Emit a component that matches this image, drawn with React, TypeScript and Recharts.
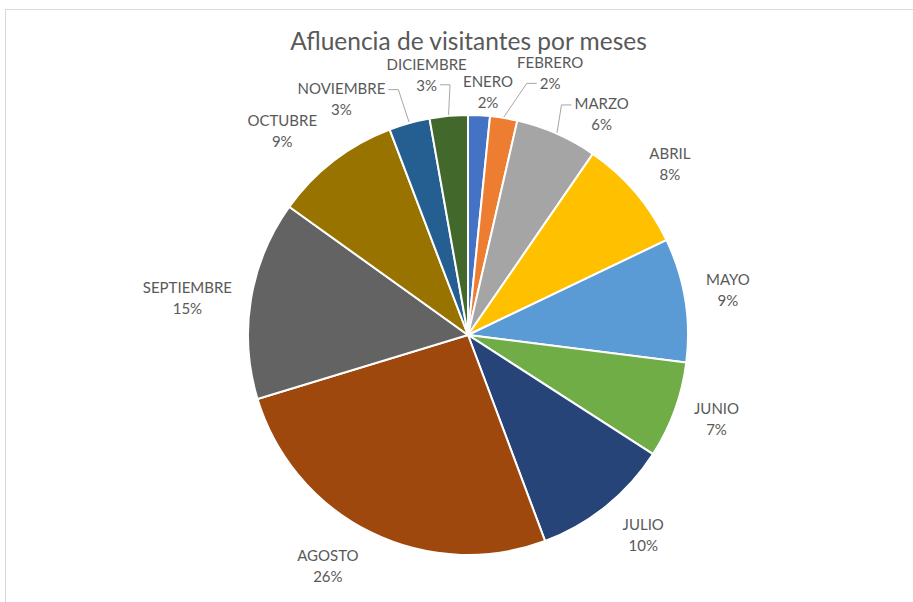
import { PieChart, Pie, Cell } from 'recharts'

const MONTHS = [
  'ENERO',
  'FEBRERO',
  'MARZO',
  'ABRIL',
  'MAYO',
  'JUNIO',
  'JULIO',
  'AGOSTO',
  'SEPTIEMBRE',
  'OCTUBRE',
  'NOVIEMBRE',
  'DICIEMBRE',
]

// share of visitors per month (%)
const SHARES = [1.6, 2.0, 6.0, 8.3, 9.1, 7.1, 10.2, 26.0, 14.6, 9.3, 3.0, 2.8]

const COLORS = [
  '#4472C4',
  '#ED7D31',
  '#A5A5A5',
  '#FFC000',
  '#5B9BD5',
  '#70AD47',
  '#264478',
  '#9E480E',
  '#636363',
  '#997300',
  '#255E91',
  '#43682B',
]

// label nudges: da = degrees clockwise, dr = px outward, leader = draw leader line
const LABEL_NUDGE = [
  { da: 1.7, dr: -19, leader: false },
  { da: 7.2, dr: 10, leader: true },
  { da: 6.5, dr: -7, leader: true },
  { da: 0, dr: 0, leader: false },
  { da: -0.8, dr: -3, leader: false },
  { da: -1.2, dr: -5, leader: false },
  { da: -2.2, dr: 1, leader: false },
  { da: 3.9, dr: 3, leader: false },
  { da: -1, dr: -6, leader: false },
  { da: -2.9, dr: 6, leader: false },
  { da: -10.5, dr: 0, leader: true },
  { da: -3.3, dr: 0, leader: true },
]

const FONT = 'Lato, "Noto Sans", sans-serif'
const LABEL_SIZE = 15
const LABEL_COLOR = '#595959'
const LINE_GAP = 21
const GAP = 25
const RAD = Math.PI / 180

const data = MONTHS.map((name, i) => ({ name, value: SHARES[i] }))

let ctx: CanvasRenderingContext2D | null = null
function textWidth(s: string) {
  if (!ctx) ctx = document.createElement('canvas').getContext('2d')
  if (!ctx) return s.length * 9
  ctx.font = `${LABEL_SIZE}px Lato`
  return ctx.measureText(s).width
}

function renderLabel(props: any) {
  const { cx, cy, midAngle, outerRadius, percent, name, index } = props
  const nudge = LABEL_NUDGE[index]
  const pct = `${Math.round(percent * 100)}%`
  const nameW = textWidth(name)
  const pctW = textWidth(pct)
  const halfW = Math.max(nameW, pctW) / 2
  const halfH = LINE_GAP / 2 + 8

  const t = (90 - midAngle + nudge.da) * RAD
  const s = Math.sin(t)
  const c = Math.cos(t)
  const r = outerRadius + GAP + nudge.dr
  const lx = cx + r * s + s * halfW
  const ly = cy - r * c - c * halfH

  let leader = null
  if (nudge.leader) {
    const tm = (90 - midAngle) * RAD
    const ex = cx + (outerRadius + 1) * Math.sin(tm)
    const ey = cy - (outerRadius + 1) * Math.cos(tm)
    const dir = lx > ex ? 1 : -1
    const nameEnd = { x: lx - dir * (nameW / 2 + 3), y: ly - LINE_GAP / 2 + 2 }
    const pctEnd = { x: lx - dir * (pctW / 2 + 3), y: ly + LINE_GAP / 2 }
    const dist = (p: { x: number; y: number }) => Math.hypot(p.x - ex, p.y - ey)
    const end = dist(nameEnd) < dist(pctEnd) ? nameEnd : pctEnd
    const elbowX = end.x - dir * 10
    leader = (
      <polyline
        points={`${ex},${ey} ${elbowX},${end.y} ${end.x},${end.y}`}
        fill="none"
        stroke="#A6A6A6"
        strokeWidth={1}
      />
    )
  }

  return (
    <g key={`lbl-${index}`}>
      {leader}
      <text
        x={lx}
        y={ly - LINE_GAP / 2}
        textAnchor="middle"
        dominantBaseline="central"
        fill={LABEL_COLOR}
        fontFamily={FONT}
        fontSize={LABEL_SIZE}
      >
        {name}
      </text>
      <text
        x={lx}
        y={ly + LINE_GAP / 2}
        textAnchor="middle"
        dominantBaseline="central"
        fill={LABEL_COLOR}
        fontFamily={FONT}
        fontSize={LABEL_SIZE}
      >
        {pct}
      </text>
    </g>
  )
}

export default function App() {
  return (
    <div
      style={{
        position: 'absolute',
        left: 0,
        top: 0,
        width: 913,
        height: 602,
        overflow: 'hidden',
        background: '#fff',
      }}
    >
      <div
        style={{
          position: 'absolute',
          left: 5,
          top: 9,
          width: 1000,
          height: 700,
          border: '1px solid #D9D9D9',
        }}
      />
      <div
        style={{
          position: 'absolute',
          left: 0,
          top: 26,
          width: 937,
          textAlign: 'center',
          fontFamily: FONT,
          fontSize: 24.5,
          lineHeight: '30px',
          color: '#595959',
        }}
      >
        Afluencia de visitantes por meses
      </div>
      <div style={{ position: 'absolute', left: 0, top: 0 }}>
        <PieChart width={913} height={602} margin={{ top: 0, right: 0, bottom: 0, left: 0 }}>
          <Pie
            data={data}
            dataKey="value"
            nameKey="name"
            cx={468}
            cy={335}
            outerRadius={220}
            startAngle={90}
            endAngle={-270}
            stroke="#FFFFFF"
            strokeWidth={2}
            labelLine={false}
            label={renderLabel}
            isAnimationActive={false}
          >
            {data.map((d, i) => (
              <Cell key={d.name} fill={COLORS[i]} />
            ))}
          </Pie>
        </PieChart>
      </div>
    </div>
  )
}
